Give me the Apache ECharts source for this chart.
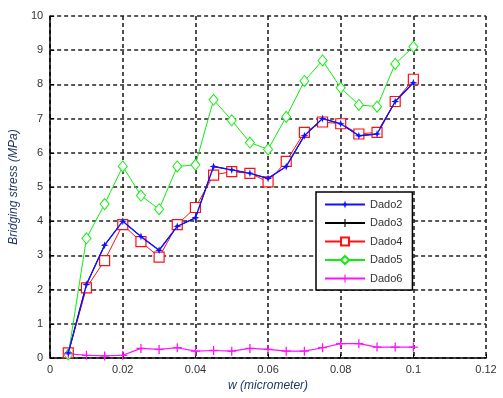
<!DOCTYPE html>
<html><head><meta charset="utf-8">
<script src="https://cdn.jsdelivr.net/npm/echarts@6/dist/echarts.min.js"></script>
<style>html,body{margin:0;padding:0;background:#fff}#c{width:503px;height:398px}</style>
</head><body><div id="c"></div>
<script>
var wValues = [0.005,0.01,0.015,0.02,0.025,0.03,0.035,0.04,0.045,0.05,0.055,0.06,0.065,0.07,0.075,0.08,0.085,0.09,0.095,0.1];
var dado2 = [0.15,2.15,3.3,4.0,3.55,3.15,3.85,4.1,5.6,5.5,5.4,5.25,5.6,6.5,7.0,6.85,6.5,6.55,7.5,8.05];
var dado3 = [0.15,2.15,3.3,4.0,3.55,3.15,3.85,4.1,5.6,5.5,5.4,5.25,5.6,6.5,7.0,6.85,6.5,6.55,7.5,8.05];
var dado4 = [0.15,2.05,2.85,3.9,3.4,2.95,3.9,4.4,5.35,5.45,5.4,5.15,5.75,6.6,6.9,6.85,6.55,6.6,7.5,8.15];
var dado5 = [0.1,3.5,4.5,5.6,4.75,4.35,5.6,5.65,7.55,6.95,6.3,6.1,7.05,8.1,8.7,7.9,7.4,7.35,8.6,9.1];
var dado6 = [0.12,0.08,0.06,0.08,0.28,0.25,0.3,0.2,0.22,0.2,0.28,0.25,0.2,0.2,0.3,0.42,0.42,0.32,0.32,0.32];
var seriesNames = ['Dado2','Dado3','Dado4','Dado5','Dado6'];
var xTicks = [0,0.02,0.04,0.06,0.08,0.1,0.12];

function pairs(ys){ return wValues.map(function(x,i){ return [x, ys[i]]; }); }
var plus = 'path://M4.3,0H5.7V4.3H10V5.7H5.7V10H4.3V5.7H0V4.3H4.3Z';
var star = 'path://M5,0L6.2,3.8L10,5L6.2,6.2L5,10L3.8,6.2L0,5L3.8,3.8Z';

var chart = echarts.init(document.getElementById('c'));
var gridLine = {show:true, lineStyle:{color:'#222', type:[4,3], width:1.6}};
chart.setOption({
  animation:false,
  backgroundColor:'#fff',
  grid:{left:48, right:17, top:16, bottom:40},
  xAxis:{type:'value', min:0, max:0.12, interval:0.02,
    axisLine:{show:true, onZero:false, lineStyle:{color:'#000', width:1.5}},
    axisTick:{show:true, inside:true, length:4, lineStyle:{color:'#000'}},
    splitLine:gridLine,
    axisLabel:{color:'#333', fontSize:11, fontFamily:'Liberation Sans', margin:6,
      formatter:function(v){ var s = xTicks.filter(function(t){return Math.abs(t-v)<1e-9;}); return s.length? String(+v.toFixed(2)) : ''; }},
    name:'w (micrometer)', nameLocation:'middle', nameGap:22,
    nameTextStyle:{color:'#1f3864', fontStyle:'italic', fontSize:12, fontFamily:'Liberation Sans'}
  },
  yAxis:{type:'value', min:0, max:10, interval:1,
    axisLine:{show:true, lineStyle:{color:'#000', width:1.5}},
    axisTick:{show:true, inside:true, length:4, lineStyle:{color:'#000'}},
    splitLine:gridLine,
    axisLabel:{color:'#333', fontSize:11, fontFamily:'Liberation Sans', margin:7},
    name:'Bridging stress (MPa)', nameLocation:'middle', nameGap:27,
    nameTextStyle:{color:'#1f3864', fontStyle:'italic', fontSize:12, fontFamily:'Liberation Sans'}
  },
  legend:{orient:'vertical', left:316, top:192, width:95,
    itemWidth:40, itemHeight:10, itemGap:7.5,
    padding:[7,10,6,8],
    backgroundColor:'#fff', borderColor:'#000', borderWidth:1.5, borderRadius:0,
    textStyle:{color:'#333', fontSize:11, fontFamily:'Liberation Sans'},
    data:seriesNames
  },
  series:[
    {name:'Dado2', type:'line', data:pairs(dado2), symbol:star, symbolSize:8, z:5,
      lineStyle:{color:'#1010ff', width:1.4}, itemStyle:{color:'#1010ff'}},
    {name:'Dado3', type:'line', data:pairs(dado3), symbol:plus, symbolSize:5, z:3,
      lineStyle:{color:'#000', width:1}, itemStyle:{color:'#000'}},
    {name:'Dado4', type:'line', data:pairs(dado4), symbol:'rect', symbolSize:10, z:4,
      lineStyle:{color:'#ff1010', width:1}, itemStyle:{color:'#fff', borderColor:'#ff1010', borderWidth:1.2}},
    {name:'Dado5', type:'line', data:pairs(dado5), symbol:'diamond', symbolSize:[9,11], z:4,
      lineStyle:{color:'#10ee10', width:1}, itemStyle:{color:'#fff', borderColor:'#10ee10', borderWidth:1}},
    {name:'Dado6', type:'line', data:pairs(dado6), symbol:plus, symbolSize:9, z:4,
      lineStyle:{color:'#ff10ff', width:1.2}, itemStyle:{color:'#ff10ff'}}
  ]
});
</script></body></html>
